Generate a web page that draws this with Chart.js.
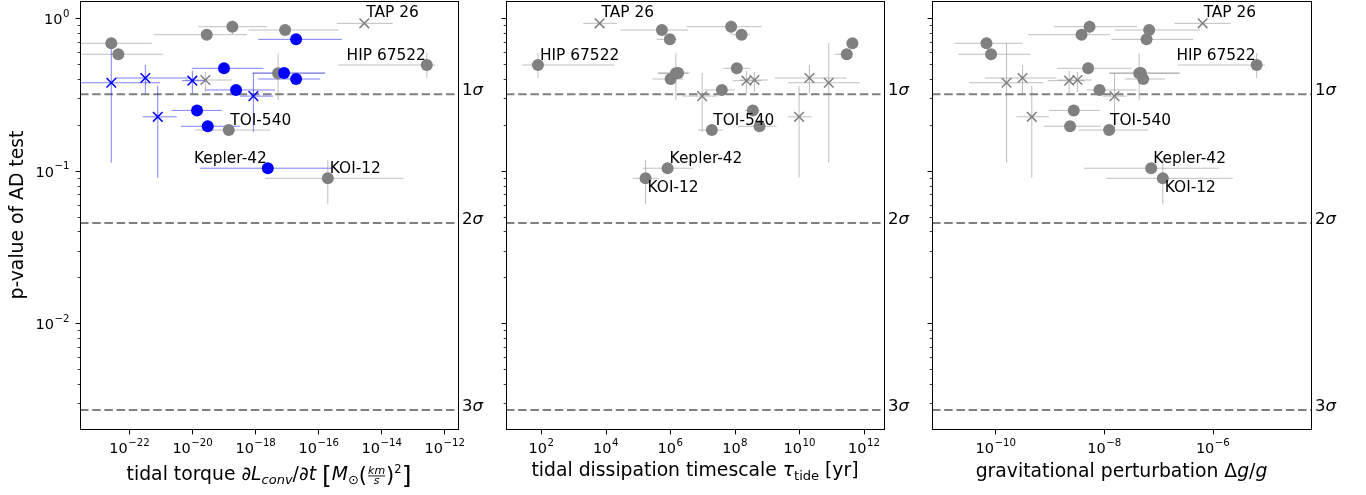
<!DOCTYPE html>
<html>
<head>
<meta charset="utf-8">
<script src="https://cdn.jsdelivr.net/npm/chart.js@4.4.0/dist/chart.umd.min.js"></script>
<style>
  html, body { margin: 0; padding: 0; background: #fff; }
  #wrap { position: relative; width: 1366px; height: 495px; }
  #wrap canvas { position: absolute; left: 0; top: 0; }
</style>
</head>
<body>
<div id="wrap">
  <canvas id="torqueChart" width="1366" height="495"></canvas>
  <canvas id="tideChart" width="1366" height="495"></canvas>
  <canvas id="dggChart" width="1366" height="495"></canvas>
</div>
<script>
// one entry per star, same order in every array
const starNames = ['TAP 26', '', '', '', '', '', '', 'HIP 67522', '', '', '', '', '',
  '', '', '', '', '', '', '', '', 'TOI-540', 'Kepler-42', 'KOI-12'];
const markerType = ['x', 'o', 'o', 'o', 'o', 'o', 'o', 'o', 'o', 'o', 'o', 'o', 'x',
  'x', 'x', 'x', 'o', 'x', 'o', 'x', 'o', 'o', 'o', 'o'];
// stars drawn in blue in the torque panel
const torqueFlag = [0, 0, 0, 0, 1, 0, 0, 0, 1, 0, 1, 1, 0, 1, 1, 1, 1, 1, 1, 1, 1, 0, 1, 0];

// p-value of the AD test, with lower / upper ends of its bar (null = no bar)
const pValue = [0.927, 0.881, 0.838, 0.781, 0.728, 0.686, 0.581, 0.494, 0.470, 0.436, 0.438, 0.400,
  0.394, 0.390, 0.406, 0.378, 0.339, 0.309, 0.249, 0.226, 0.196, 0.185, 0.104, 0.0893];
const pLow = [null, 0.789, null, null, null, null, null, 0.406, null, 0.291, null, null,
  0.329, 0.322, 0.322, 0.113, null, 0.180, null, 0.090, null, null, null, 0.0603];
const pHigh = [null, 0.975, null, null, null, null, null, 0.592, null, 0.589, null, null,
  0.444, 0.453, 0.494, 0.689, null, 0.438, null, 0.360, null, null, null, 0.118];

// tidal torque
const torque = [2.86e-15, 1.86e-19, 8.77e-18, 2.86e-20, 1.96e-17, 2.68e-23, 4.48e-23, 2.76e-13,
  1.01e-19, 5.26e-18, 8.15e-18, 1.96e-17, 2.59e-20, 1.00e-20, 3.22e-22, 2.68e-23, 2.44e-19,
  8.65e-19, 1.41e-20, 7.98e-22, 3.08e-20, 1.43e-19, 2.48e-18, 1.99e-16];
const torqueLow = [3.84e-16, 1.55e-20, 6.00e-19, 6.08e-22, 1.24e-18, 2.93e-24, 3.08e-24, 4.32e-16,
  9.58e-21, 7.69e-19, 8.5e-19, 1.24e-18, 5.86e-21, 4.71e-21, 3.52e-23, 2.93e-24, 2.53e-20,
  3.27e-19, 2.22e-21, 2.66e-22, 4.29e-21, 1.22e-20, 1.75e-20, 2.03e-18];
const torqueHigh = [2.30e-14, 2.30e-18, 4.32e-16, 5.33e-19, 5.53e-16, 5.14e-22, 1.15e-21, 5.07e-13,
  1.79e-18, 1.63e-16, 1.63e-16, 1.13e-16, 1.78e-19, 2.9e-20, 8.45e-21, 9.44e-22, 4.22e-18,
  3.65e-18, 8.57e-20, 3.2e-21, 3.27e-19, 2.93e-18, 2.99e-16, 4.99e-14];

// tidal dissipation timescale [yr]
const tauTide = [6.56e3, 7.80e7, 5.57e5, 1.64e8, 9.86e5, 4.47e11, 2.98e11, 80.7, 1.17e8, 1.51e6,
  1.78e6, 1.04e6, 4.13e8, 2.33e8, 2.08e10, 8.24e10, 4.02e7, 9.86e6, 3.66e8, 9.93e9, 5.90e8,
  1.97e7, 8.37e5, 1.74e5];
const tauLow = [2.04e3, 3.24e6, 2.93e4, 8.02e7, 3.82e5, 2.91e11, 1.26e11, 26.4, 4.41e7, 4.28e5,
  4.28e5, 2.87e5, 1.45e8, 8.8e7, 1.76e9, 4.53e9, 1.19e7, 2.44e6, 2.07e8, 4.44e9, 1.28e8,
  7.41e6, 1.41e5, 6.90e4];
const tauHigh = [2.30e4, 6.81e8, 3.63e6, 2.96e8, 1.59e6, 6.67e11, 4.67e11, 1.82e4, 2.96e8, 3.63e6,
  4.10e6, 2.55e6, 1.07e9, 6.95e8, 2.91e11, 7.52e11, 1.01e8, 2.75e7, 6.0e8, 2.40e10, 1.98e9,
  4.41e7, 5.19e6, 4.60e5];

// gravitational perturbation dg/g
const dgg = [6.55e-7, 5.41e-9, 6.77e-8, 3.85e-9, 6.07e-8, 6.83e-11, 8.30e-11, 6.47e-6, 5.09e-9,
  4.44e-8, 4.76e-8, 5.26e-8, 3.24e-9, 2.28e-9, 3.15e-10, 1.60e-10, 8.26e-9, 1.56e-8, 2.77e-9,
  4.67e-10, 2.37e-9, 1.24e-8, 7.38e-8, 1.21e-7];
const dggLow = [1.96e-7, 1.20e-9, 1.58e-8, 3.99e-10, 1.37e-8, 1.78e-11, 2.05e-11, 2.32e-7, 1.36e-9,
  1.24e-8, 1.25e-8, 2.42e-8, 1.41e-9, 9.2e-10, 6.35e-11, 3.26e-11, 4.75e-9, 9.5e-9, 9.73e-10,
  2.44e-10, 7.87e-10, 3.34e-9, 4.25e-9, 1.11e-8];
const dggHigh = [2.15e-6, 4.14e-8, 5.83e-7, 1.28e-8, 4.38e-7, 3.15e-10, 4.42e-10, 9.21e-6, 3.21e-8,
  2.42e-7, 2.5e-7, 1.32e-7, 5.96e-9, 4.43e-9, 1.33e-9, 7.53e-10, 3.97e-8, 2.6e-8, 8.38e-9,
  9.73e-10, 8.61e-9, 6.50e-8, 1.33e-6, 2.34e-6];

// significance levels and axis ticks
const sigmaLevels = [0.3173, 0.0455, 0.0027];
const sigmaNames = ['1', '2', '3'];
const pMajorTicks = [0.01, 0.1, 1];
const pMinorTicks = [0.003, 0.004, 0.005, 0.006, 0.007, 0.008, 0.009,
  0.02, 0.03, 0.04, 0.05, 0.06, 0.07, 0.08, 0.09, 0.2, 0.3, 0.4, 0.5, 0.6, 0.7, 0.8, 0.9];
const torqueTicks = [1e-22, 1e-20, 1e-18, 1e-16, 1e-14, 1e-12];
const tauTicks = [1e2, 1e4, 1e6, 1e8, 1e10, 1e12];
const dggTicks = [1e-10, 1e-8, 1e-6];

const FONT = '"DejaVu Sans", sans-serif';
const GREY = '#808080';
const BLUE = '#0000ff';

// "10" with a raised exponent, like matplotlib's log tick labels
function drawPow(ctx, v, x, y, align) {
  const e = Math.round(Math.log10(v));
  const exp = e < 0 ? '\u2212' + (-e) : String(e);
  ctx.font = '14.5px ' + FONT;
  const wb = ctx.measureText('10').width;
  ctx.font = '10.2px ' + FONT;
  const we = ctx.measureText(exp).width;
  const x0 = align === 'center' ? x - (wb + we) / 2 : x - wb - we;
  ctx.textAlign = 'left';
  ctx.textBaseline = 'alphabetic';
  ctx.font = '14.5px ' + FONT;
  ctx.fillText('10', x0, y);
  ctx.font = '10.2px ' + FONT;
  ctx.fillText(exp, x0 + wb + 0.5, y - 7.5);
}

// text made of runs (italic, sub/superscript, fraction)
function runFont(r) {
  return (r.it ? 'italic ' : '') + r.s + 'px ' + FONT;
}
function drawRuns(ctx, runs, x, y, align) {
  let total = 0;
  const widths = runs.map(r => {
    ctx.font = runFont(r);
    const w = r.frac ? Math.max(ctx.measureText(r.frac[0]).width, ctx.measureText(r.frac[1]).width) + 2
                     : ctx.measureText(r.t).width;
    total += w;
    return w;
  });
  let cx = align === 'center' ? x - total / 2 : (align === 'right' ? x - total : x);
  ctx.textAlign = 'left';
  ctx.textBaseline = 'alphabetic';
  runs.forEach((r, i) => {
    ctx.font = runFont(r);
    const w = widths[i];
    if (r.frac) {
      ctx.textAlign = 'center';
      ctx.fillText(r.frac[0], cx + w / 2, y - 6);
      ctx.fillText(r.frac[1], cx + w / 2, y + 4);
      ctx.fillRect(cx + 1, y - 4.5, w - 2, 0.9);
      ctx.textAlign = 'left';
    } else {
      ctx.fillText(r.t, cx, y + (r.dy || 0));
    }
    cx += w;
  });
}

function makeExtras(cfg) {
  return {
    id: 'extras',
    beforeDatasetsDraw(chart) {
      const {ctx, chartArea: a} = chart;
      const sx = chart.scales.x, sy = chart.scales.y;
      ctx.save();
      ctx.beginPath();
      ctx.rect(a.left, a.top, a.right - a.left, a.bottom - a.top);
      ctx.clip();
      // sigma lines
      ctx.strokeStyle = GREY;
      ctx.lineWidth = 2;
      ctx.setLineDash([8.5, 3.7]);
      sigmaLevels.forEach(v => {
        const py = sy.getPixelForValue(v);
        ctx.beginPath();
        ctx.moveTo(a.left, py);
        ctx.lineTo(a.right, py);
        ctx.stroke();
      });
      ctx.setLineDash([]);
      // error bars
      ctx.lineWidth = 1;
      cfg.x.forEach((xv, i) => {
        ctx.strokeStyle = cfg.barColours[i];
        const px = sx.getPixelForValue(xv);
        const py = sy.getPixelForValue(pValue[i]);
        ctx.beginPath();
        ctx.moveTo(sx.getPixelForValue(cfg.lo[i]), py);
        ctx.lineTo(sx.getPixelForValue(cfg.hi[i]), py);
        if (pLow[i] !== null) {
          ctx.moveTo(px, sy.getPixelForValue(pLow[i]));
          ctx.lineTo(px, sy.getPixelForValue(pHigh[i]));
        }
        ctx.stroke();
      });
      ctx.restore();
    },
    afterDraw(chart) {
      const {ctx, chartArea: a} = chart;
      const sx = chart.scales.x, sy = chart.scales.y;
      ctx.save();
      // frame
      const L = Math.round(a.left) + 0.5, R = Math.round(a.right) + 0.5;
      const T = Math.round(a.top) + 0.5, B = Math.round(a.bottom) + 0.5;
      ctx.strokeStyle = '#000';
      ctx.lineWidth = 1;
      ctx.strokeRect(L, T, R - L, B - T);
      // tick marks
      ctx.beginPath();
      cfg.ticks.forEach(v => {
        const px = Math.round(sx.getPixelForValue(v)) + 0.5;
        ctx.moveTo(px, B);
        ctx.lineTo(px, B + 4.9);
      });
      pMajorTicks.forEach(v => {
        const py = Math.round(sy.getPixelForValue(v)) + 0.5;
        ctx.moveTo(L, py);
        ctx.lineTo(L - 4.9, py);
      });
      ctx.stroke();
      ctx.lineWidth = 0.8;
      ctx.beginPath();
      pMinorTicks.forEach(v => {
        const py = Math.round(sy.getPixelForValue(v)) + 0.5;
        ctx.moveTo(L, py);
        ctx.lineTo(L - 2.8, py);
      });
      ctx.stroke();
      // tick labels
      ctx.fillStyle = '#000';
      cfg.ticks.forEach(v => drawPow(ctx, v, sx.getPixelForValue(v), 453, 'center'));
      if (cfg.yTitle) {
        pMajorTicks.forEach(v => drawPow(ctx, v, a.left - 11, sy.getPixelForValue(v) + 6, 'right'));
      }
      // sigma labels
      sigmaLevels.forEach((v, i) => {
        const py = sy.getPixelForValue(v);
        drawRuns(ctx, [{t: sigmaNames[i], s: 16.5}, {t: 'σ', s: 16.5, it: true}], a.right + 4, py + 1, 'left');
      });
      // star annotations
      cfg.labels.forEach(l => {
        const px = sx.getPixelForValue(cfg.x[l.i]);
        const py = sy.getPixelForValue(pValue[l.i]);
        ctx.font = '15.4px ' + FONT;
        ctx.textAlign = l.align;
        ctx.textBaseline = 'alphabetic';
        ctx.fillText(starNames[l.i], px + l.dx, py + l.dy);
      });
      // axis titles
      drawRuns(ctx, cfg.title, (a.left + a.right) / 2, cfg.titleY, 'center');
      if (cfg.yTitle) {
        ctx.translate(23, (a.top + a.bottom) / 2);
        ctx.rotate(-Math.PI / 2);
        ctx.font = '18.8px ' + FONT;
        ctx.textAlign = 'center';
        ctx.textBaseline = 'alphabetic';
        ctx.fillText(cfg.yTitle, 0, 0);
      }
      ctx.restore();
    }
  };
}

function makePanel(id, cfg) {
  const colours = cfg.colours;
  const points = cfg.x.map((v, i) => ({x: v, y: pValue[i]}));
  return new Chart(document.getElementById(id).getContext('2d'), {
    type: 'scatter',
    data: {
      datasets: [{
        data: points,
        pointStyle: markerType.map(m => m === 'x' ? 'crossRot' : 'circle'),
        pointRadius: markerType.map(m => m === 'x' ? 6.8 : 6),
        pointBackgroundColor: colours,
        pointBorderColor: colours,
        pointBorderWidth: markerType.map(m => m === 'x' ? 1.5 : 0)
      }]
    },
    options: {
      responsive: false,
      animation: false,
      events: [],
      layout: {autoPadding: false, padding: {left: cfg.left, right: 1366 - cfg.right, top: 1, bottom: 66}},
      plugins: {legend: {display: false}, tooltip: {enabled: false}},
      scales: {
        x: {type: 'logarithmic', display: false, min: cfg.min, max: cfg.max},
        y: {type: 'logarithmic', display: false, min: 0.002027, max: 1.299}
      }
    },
    plugins: [makeExtras(cfg)]
  });
}

const greyAll = pValue.map(() => GREY);
const greyBars = pValue.map(() => 'rgba(128,128,128,0.5)');

makePanel('torqueChart', {
  x: torque, lo: torqueLow, hi: torqueHigh, ticks: torqueTicks,
  min: 2.72e-24, max: 2.69e-12, left: 80, right: 458,
  colours: torqueFlag.map(f => f ? BLUE : GREY),
  barColours: torqueFlag.map(f => f ? 'rgba(0,0,255,0.5)' : 'rgba(128,128,128,0.5)'),
  labels: [
    {i: 0, dx: 2, dy: -6, align: 'left'},
    {i: 7, dx: -1, dy: -5, align: 'right'},
    {i: 21, dx: 1.5, dy: -5, align: 'left'},
    {i: 22, dx: -1, dy: -5, align: 'right'},
    {i: 23, dx: 2, dy: -5, align: 'left'}
  ],
  title: [
    {t: 'tidal torque ', s: 18.8},
    {t: '∂', s: 18.8, it: true},
    {t: 'L', s: 18.8, it: true},
    {t: 'conv', s: 13, it: true, dy: 3.5},
    {t: '/', s: 18.8},
    {t: '∂', s: 18.8, it: true},
    {t: 't', s: 18.8, it: true},
    {t: ' ', s: 18.8},
    {t: '[', s: 25, dy: 3.5},
    {t: 'M', s: 18.8, it: true},
    {t: '⊙', s: 13, dy: 3.5},
    {t: '(', s: 21, dy: 2.3},
    {frac: ['km', 's'], s: 11, it: true},
    {t: ')', s: 21, dy: 2.3},
    {t: '2', s: 11.5, dy: -7.5},
    {t: ']', s: 25, dy: 3.5}
  ],
  titleY: 480,
  yTitle: 'p-value of AD test'
});

makePanel('tideChart', {
  x: tauTide, lo: tauLow, hi: tauHigh, ticks: tauTicks,
  min: 8.25, max: 4.25e12, left: 506, right: 884,
  colours: greyAll, barColours: greyBars,
  labels: [
    {i: 0, dx: 2, dy: -6, align: 'left'},
    {i: 7, dx: 2, dy: -5, align: 'left'},
    {i: 21, dx: 1.5, dy: -5, align: 'left'},
    {i: 22, dx: 2, dy: -5, align: 'left'},
    {i: 23, dx: 2, dy: 13.5, align: 'left'}
  ],
  title: [
    {t: 'tidal dissipation timescale ', s: 18.8},
    {t: 'τ', s: 18.8, it: true},
    {t: 'tide', s: 13, dy: 3.5},
    {t: ' [yr]', s: 18.8}
  ],
  titleY: 476
});

makePanel('dggChart', {
  x: dgg, lo: dggLow, hi: dggHigh, ticks: dggTicks,
  min: 6.78e-12, max: 6.49e-5, left: 932, right: 1311,
  colours: greyAll, barColours: greyBars,
  labels: [
    {i: 0, dx: 1, dy: -6, align: 'left'},
    {i: 7, dx: -1, dy: -5, align: 'right'},
    {i: 21, dx: 1, dy: -5, align: 'left'},
    {i: 22, dx: 2, dy: -5, align: 'left'},
    {i: 23, dx: 2, dy: 13.5, align: 'left'}
  ],
  title: [
    {t: 'gravitational perturbation ', s: 18.8},
    {t: 'Δ', s: 18.8},
    {t: 'g', s: 18.8, it: true},
    {t: '/', s: 18.8},
    {t: 'g', s: 18.8, it: true}
  ],
  titleY: 477
});
</script>
</body>
</html>
